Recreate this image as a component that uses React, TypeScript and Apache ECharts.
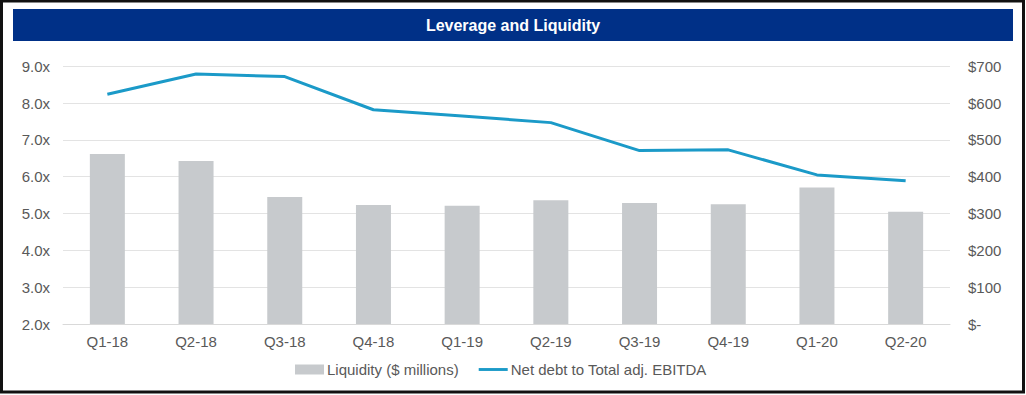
import React, { useEffect, useRef } from "react";
import * as echarts from "echarts";

const categories = ["Q1-18", "Q2-18", "Q3-18", "Q4-18", "Q1-19", "Q2-19", "Q3-19", "Q4-19", "Q1-20", "Q2-20"];
const liquidity = [462, 443, 345, 323, 321, 336, 329, 325, 371, 305];
const leverage = [8.24, 8.79, 8.72, 7.82, 7.65, 7.47, 6.71, 6.73, 6.05, 5.89];
const leftTicks = [2, 3, 4, 5, 6, 7, 8, 9];
const rightTicks = [0, 100, 200, 300, 400, 500, 600, 700];

export default function App() {
  const ref = useRef<HTMLDivElement>(null);
  useEffect(() => {
    if (!ref.current) return;
    const chart = echarts.init(ref.current, null, { renderer: "svg" });
    const font = "'Liberation Sans', Arial, sans-serif";
    chart.setOption({
      animation: false,
      backgroundColor: "#ffffff",
      textStyle: { fontFamily: font },
      graphic: [
        {
          type: "rect",
          shape: { x: 1.5, y: 1, width: 1022, height: 391 },
          style: { fill: "none", stroke: "#111111", lineWidth: 3 },
          silent: true,
        },
        {
          type: "rect",
          shape: { x: 13, y: 9, width: 1000, height: 32 },
          style: { fill: "#003087" },
          silent: true,
        },
        {
          type: "text",
          x: 513,
          y: 25,
          style: {
            text: "Leverage and Liquidity",
            fill: "#ffffff",
            font: `bold 16px ${font}`,
            align: "center",
            verticalAlign: "middle",
          },
          silent: true,
        },
      ],
      grid: { left: 63, right: 76, top: 66.3, bottom: 71, containLabel: false },
      legend: {
        bottom: 13,
        left: 290,
        itemGap: 20,
        itemWidth: 29,
        itemHeight: 10,
        textStyle: { color: "#595959", fontSize: 15, fontFamily: font, padding: [0, 0, 0, -2] },
        data: [
          { name: "Liquidity ($ millions)", icon: "rect" },
          { name: "Net debt to Total adj. EBITDA", icon: "path://M0 0 H30 V3 H0 Z" },
        ],
      },
      xAxis: {
        type: "category",
        data: categories,
        axisLine: { show: true, lineStyle: { color: "#d9d9d9" } },
        axisTick: { show: false },
        axisLabel: { color: "#595959", fontSize: 15, margin: 10, fontFamily: font },
      },
      yAxis: [
        {
          type: "value",
          min: leftTicks[0],
          max: leftTicks[leftTicks.length - 1],
          interval: 1,
          axisLine: { show: false },
          axisTick: { show: false },
          splitLine: { lineStyle: { color: "#e3e3e3" } },
          axisLabel: {
            color: "#595959",
            fontSize: 15,
            margin: 13,
            fontFamily: font,
            formatter: (v: number) => v.toFixed(1) + "x",
          },
        },
        {
          type: "value",
          min: rightTicks[0],
          max: rightTicks[rightTicks.length - 1],
          interval: 100,
          axisLine: { show: false },
          axisTick: { show: false },
          splitLine: { show: false },
          axisLabel: {
            color: "#595959",
            fontSize: 15,
            margin: 18,
            fontFamily: font,
            formatter: (v: number) => (v === 0 ? "$-" : "$" + v),
          },
        },
      ],
      series: [
        {
          name: "Liquidity ($ millions)",
          type: "bar",
          yAxisIndex: 1,
          data: liquidity,
          barWidth: 35,
          itemStyle: { color: "#c7cacd" },
        },
        {
          name: "Net debt to Total adj. EBITDA",
          type: "line",
          yAxisIndex: 0,
          data: leverage,
          symbol: "none",
          lineStyle: { color: "#1b9ac8", width: 3 },
          itemStyle: { color: "#1b9ac8" },
        },
      ],
    });
    return () => chart.dispose();
  }, []);
  return (
    <div
      ref={ref}
      style={{ position: "fixed", left: 0, top: 0, width: 1026, height: 395 }}
    />
  );
}
